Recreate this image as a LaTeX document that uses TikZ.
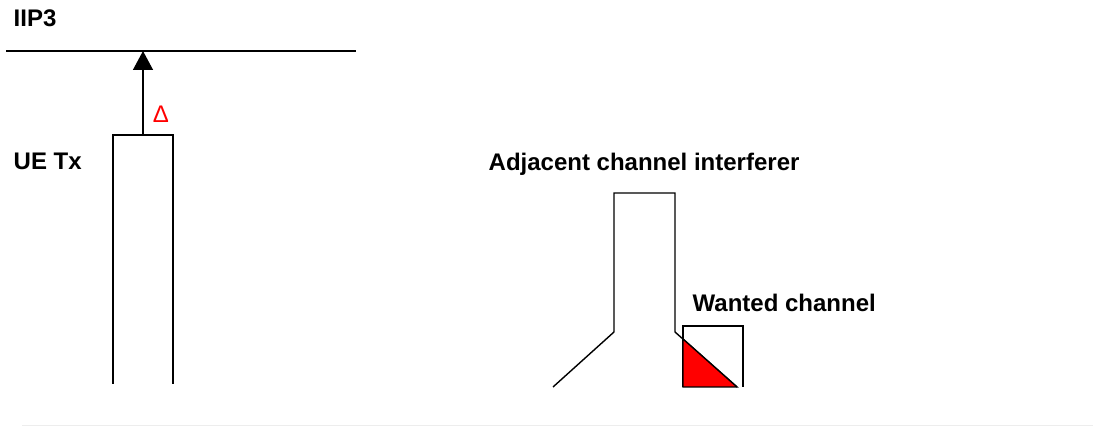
\documentclass[tikz,border=0pt]{standalone}
\usepackage{fontspec}
\setmainfont{Liberation Sans}
\usetikzlibrary{arrows.meta}
\begin{document}
\begin{tikzpicture}[x=1pt,y=-1pt,line width=1.4pt,
    lbl/.style={font=\fontsize{24}{28}\selectfont\bfseries, inner sep=0pt, anchor=base west}]
    \useasboundingbox (0,0) rectangle (1093,427);

    % labels
    \node[lbl] (iip) at (13,27) {IIP3};
    \node[lbl] (uetx) at (13,170) {UE Tx};
    \node[lbl] (aci) at (488,171) {Adjacent channel interferer};
    \node[lbl] (wanted) at (692,312) {Wanted channel};
    \node[text=red, font=\fontsize{24}{28}\selectfont, inner sep=0pt, anchor=base] (delta) at (161,123) {Δ};

    % IIP3 level
    \coordinate (ceilL) at (6,51);
    \coordinate (ceilR) at (356,51);
    \coordinate (ceil) at (143,51);
    \draw (ceilL) -- (ceilR);

    % UE Tx
    \coordinate (txTop) at (143,135);
    \draw (113,384) -- (113,135) -- (173,135) -- (173,384);
    \draw[-{Triangle[length=19pt,width=20pt]}] (txTop) -- (ceil);

    % interferer
    \draw (553,387) -- (614,332) -- (614,193) -- (675,193) -- (675,332) -- (737,387);

    % wanted channel
    \draw (683,387) -- (683,326) -- (743,326) -- (743,387);
    \filldraw[fill=red] (683,339) -- (737,387) -- (683,387) -- cycle;

    \draw[black!7, line width=1pt] (22,426) -- (1093,426);
\end{tikzpicture}
\end{document}
